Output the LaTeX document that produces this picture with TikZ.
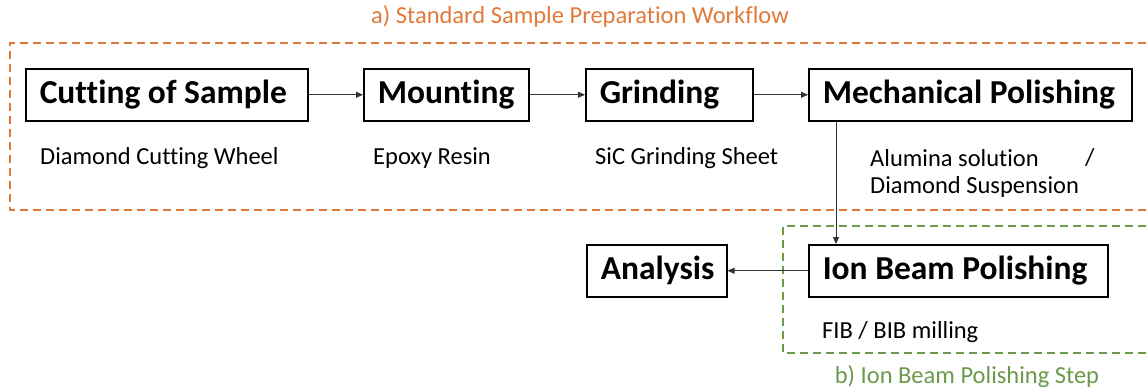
\documentclass[tikz,border=0pt]{standalone}
\usepackage{fontspec}
\setmainfont[Ligatures=NoCommon]{Carlito}
\usetikzlibrary{arrows.meta}
\definecolor{prepOrange}{RGB}{224,122,58}
\definecolor{ionGreen}{RGB}{106,154,74}
% a left-aligned label of fixed width inside a step box
\newcommand{\steplabel}[2]{\hbox to #1{#2\hss}}
\begin{document}
\begin{tikzpicture}[x=1pt,y=-1pt,
  stepbox/.style={draw=black, line width=1.5pt, rectangle, minimum height=52pt,
    inner xsep=14pt, inner ysep=0pt, anchor=north west,
    font=\fontsize{33.5}{38}\selectfont\bfseries},
  note/.style={anchor=west, inner sep=0pt, font=\fontsize{24.5}{28}\selectfont},
  flow/.style={draw=black!80, line width=0.8pt, -{Triangle[length=7pt,width=6pt]}},
  groupline/.style={dash pattern=on 8pt off 5pt, line width=1.6pt}]
\useasboundingbox (0,0) rectangle (1146,391);

% group outlines (open on the right)
\draw[groupline, prepOrange] (1146,43) -- (10,43) -- (10,210) -- (1146,210);
\draw[groupline, ionGreen] (1146,226) -- (783,226) -- (783,353) -- (1146,353);
\node[note, anchor=center, text=prepOrange] (titleA) at (580,17) {a) Standard Sample Preparation Workflow};
\node[note, anchor=center, text=ionGreen] (titleB) at (967,377) {b) Ion Beam Polishing Step};

% process steps
\node[stepbox] (cut) at (25,68) {\steplabel{254pt}{Cutting of Sample}};
\node[stepbox] (mount) at (363,68) {\steplabel{137pt}{Mounting}};
\node[stepbox] (grind) at (585,68) {\steplabel{139pt}{Grinding}};
\node[stepbox] (mech) at (808,68) {\steplabel{295pt}{Mechanical Polishing}};
\node[stepbox] (ana) at (586,244) {\steplabel{112pt}{Analysis}};
\node[stepbox] (ion) at (808,244) {\steplabel{271pt}{Ion Beam Polishing}};

% materials used in each step
\node[note] (cutN) at (40,158) {Diamond Cutting Wheel};
\node[note] (mountN) at (373,158) {Epoxy Resin};
\node[note] (grindN) at (595,158) {SiC Grinding Sheet};
\node[note] (mechN1) at (870,158) {Alumina solution};
\node[note] (mechN2) at (1085,158) {/};
\node[note] (mechN3) at (870,187) {Diamond Suspension};
\node[note] (ionN) at (822,332) {FIB / BIB milling};

% connectors
\draw[flow] (cut) -- (mount);
\draw[flow] (mount) -- (grind);
\draw[flow] (grind) -- (mech);
\draw[flow] ([xshift=28pt]mech.south west) -- ([xshift=28pt]ion.north west);
\draw[flow] (ion) -- (ana);
\end{tikzpicture}
\end{document}
